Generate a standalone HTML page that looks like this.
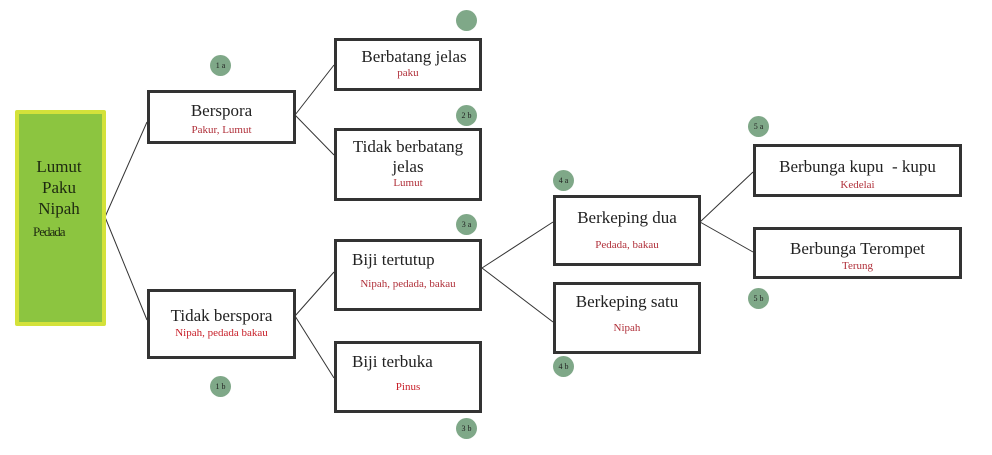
<!DOCTYPE html>
<html><head><meta charset="utf-8"><style>
body{margin:0;width:992px;height:455px;background:#fff;position:relative;overflow:hidden;font-family:"Liberation Serif",serif}
.b{position:absolute;border:3px solid #333;box-sizing:border-box;background:#fff;text-align:center;color:#222}
.t{font-size:17px;line-height:20px}
.s{font-size:11px;color:#b0303a}
.c{position:absolute;width:21px;height:21px;border-radius:50%;background:#7fa888;font-size:8px;color:#222;text-align:center;line-height:21px}
</style></head><body>
<svg width="992" height="455" style="position:absolute;left:0;top:0" stroke="#333" stroke-width="1" fill="none">
<path d="M105 217L147 122M105 217L147 320M295 115L334 65M295 115L334 155M295 316L334 272M295 316L334 378M482 268L553 222M482 268L553 322M700 222L753 172M700 222L753 252"/>
</svg>
<div style="position:absolute;left:15px;top:110px;width:91px;height:216px;background:#d4e23a;border-radius:2px"></div>
<div style="position:absolute;left:19px;top:114px;width:83px;height:208px;background:#8cc540;color:#1e2a10;font-size:17px;line-height:21px">
<div style="position:absolute;left:15px;top:42px;text-align:center;width:50px">Lumut<br>Paku<br>Nipah</div>
<div style="position:absolute;left:14px;top:107px;font-size:13px;letter-spacing:-1px">Pedada</div></div>
<div class="b" style="left:147px;top:90px;width:149px;height:54px"><div class="t" style="margin-top:8px">Berspora</div><div class="s" style="margin-top:3px">Pakur, Lumut</div></div>
<div class="b" style="left:147px;top:289px;width:149px;height:70px"><div class="t" style="margin-top:14px">Tidak berspora</div><div class="s" style="margin-top:1px;color:#c8202a">Nipah, pedada bakau</div></div>
<div class="b" style="left:334px;top:38px;width:148px;height:53px"><div class="t" style="margin-top:6px;padding-left:12px">Berbatang jelas</div><div class="s" style="margin-top:0px">paku</div></div>
<div class="b" style="left:334px;top:128px;width:148px;height:73px"><div class="t" style="margin-top:6px">Tidak berbatang<br>jelas</div><div class="s">Lumut</div></div>
<div class="b" style="left:334px;top:239px;width:148px;height:72px"><div class="t" style="margin-top:8px;text-align:left;padding-left:15px">Biji tertutup</div><div class="s" style="margin-top:8px">Nipah, pedada, bakau</div></div>
<div class="b" style="left:334px;top:341px;width:148px;height:72px"><div class="t" style="margin-top:8px;text-align:left;padding-left:15px">Biji terbuka</div><div class="s" style="margin-top:9px;color:#c8202a">Pinus</div></div>
<div class="b" style="left:553px;top:195px;width:148px;height:71px"><div class="t" style="margin-top:10px">Berkeping dua</div><div class="s" style="margin-top:11px">Pedada, bakau</div></div>
<div class="b" style="left:553px;top:282px;width:148px;height:72px"><div class="t" style="margin-top:7px">Berkeping satu</div><div class="s" style="margin-top:10px">Nipah</div></div>
<div class="b" style="left:753px;top:144px;width:209px;height:53px"><div class="t" style="margin-top:10px">Berbunga kupu &nbsp;- kupu</div><div class="s" style="margin-top:2px">Kedelai</div></div>
<div class="b" style="left:753px;top:227px;width:209px;height:52px"><div class="t" style="margin-top:9px">Berbunga Terompet</div><div class="s" style="margin-top:1px">Terung</div></div>
<div class="c" style="left:456px;top:10px"></div>
<div class="c" style="left:210px;top:55px">1 a</div>
<div class="c" style="left:456px;top:105px">2 b</div>
<div class="c" style="left:456px;top:214px">3 a</div>
<div class="c" style="left:210px;top:376px">1 b</div>
<div class="c" style="left:456px;top:418px">3 b</div>
<div class="c" style="left:553px;top:170px">4 a</div>
<div class="c" style="left:553px;top:356px">4 b</div>
<div class="c" style="left:748px;top:116px">5 a</div>
<div class="c" style="left:748px;top:288px">5 b</div>
</body></html>
